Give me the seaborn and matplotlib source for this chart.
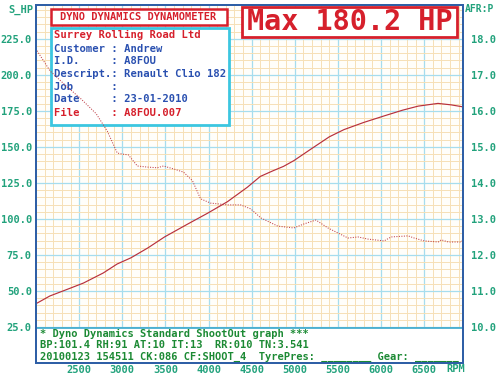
import matplotlib
matplotlib.use("Agg")
import matplotlib.pyplot as plt
import seaborn as sns
import pandas as pd
from matplotlib.patches import Rectangle
from matplotlib.ticker import MultipleLocator

# ---------------- data ----------------
power_rpm = [2010, 2160, 2400, 2550, 2780, 2940, 3100, 3300, 3490, 3760, 3990, 4220,
             4450, 4600, 4750, 4870, 4990, 5190, 5400, 5570, 5800, 6035, 6250, 6430,
             6660, 6810, 6950]
power_hp = [41.5, 46.5, 52, 55.5, 62.5, 68.7, 73, 80, 87.5, 96.5, 104, 112,
            122, 129.5, 133.5, 136.5, 140.5, 148.6, 157, 162, 167, 171.5, 175.5, 178.3,
            180.2, 179.2, 177.8]

afr_rpm = [2012, 2163, 2337, 2523, 2698, 2826, 2942, 3000, 3070, 3175, 3291, 3407,
           3477, 3593, 3710, 3814, 3907, 4023, 4221, 4372, 4489, 4605, 4803, 4989,
           5105, 5245, 5384, 5617, 5733, 5849, 6035, 6117, 6314, 6384, 6500, 6663,
           6698, 6780, 6931, 6966]
afr_val = [17.67, 17.11, 16.72, 16.33, 15.92, 15.44, 14.83, 14.8, 14.78, 14.47, 14.44, 14.42,
           14.47, 14.39, 14.3, 14.06, 13.56, 13.44, 13.39, 13.39, 13.28, 13.03, 12.8, 12.75,
           12.86, 12.97, 12.75, 12.47, 12.5, 12.44, 12.39, 12.5, 12.53, 12.47, 12.39, 12.36,
           12.42, 12.36, 12.36, 12.47]

x_ticks = [2500, 3000, 3500, 4000, 4500, 5000, 5500, 6000, 6500]
hp_ticks = [25, 50, 75, 100, 125, 150, 175, 200, 225]
afr_ticks = [10, 11, 12, 13, 14, 15, 16, 17, 18]

header_title = "DYNO DYNAMICS DYNAMOMETER"
info_lines = [
    ("Surrey Rolling Road Ltd", "red"),
    ("Customer : Andrew", "blue"),
    ("I.D.     : A8FOU", "blue"),
    ("Descript.: Renault Clio 182", "blue"),
    ("Job      :", "blue"),
    ("Date     : 23-01-2010", "blue"),
    ("File     : A8FOU.007", "red"),
]
max_text = "Max 180.2 HP"
footer_lines = [
    "* Dyno Dynamics Standard ShootOut graph ***",
    "BP:101.4 RH:91 AT:10 IT:13  RR:010 TN:3.541",
    "20100123 154511 CK:086 CF:SHOOT_4  TyrePres: ________ Gear: _______",
]

# ---------------- style ----------------
sns.set_theme(style="white")
plt.rcParams['font.family'] = ['DejaVu Sans Mono', 'DejaVu Sans']

TEAL = "#22a27c"
GREEN = "#1c8a34"
RED = "#d6202c"
BLUE = "#2a50b0"
CYAN = "#3cc6e0"
SPINE = "#2f5fa6"
GRID_MAJ = "#a6ddee"
GRID_MIN = "#f6e0b6"
LINE_RED = "#b8303c"

fig = plt.figure(figsize=(5, 3.77), dpi=100)
fig.patch.set_facecolor("white")

def fx(x):
    return x / 500.0

def fy(y):
    return 1 - y / 377.0

ax = fig.add_axes([fx(36), fy(363), (463 - 36) / 500.0, (363 - 5) / 377.0])
ax.set_facecolor("#fffefa")
ax.set_xlim(2000, 6950)
ax.set_ylim(0, 248.5)

ax.xaxis.set_major_locator(MultipleLocator(500))
ax.xaxis.set_minor_locator(MultipleLocator(100))
ax.yaxis.set_major_locator(MultipleLocator(25))
ax.yaxis.set_minor_locator(MultipleLocator(5))
ax.grid(which="minor", color=GRID_MIN, linewidth=0.7, zorder=0)
ax.grid(which="major", color=GRID_MAJ, linewidth=0.9, zorder=0)
ax.set_axisbelow(True)

ax.set_xticks(x_ticks)
ax.set_xticklabels([str(t) for t in x_ticks])
ax.set_yticks(hp_ticks)
ax.set_yticklabels([f"{t:.1f}" for t in hp_ticks])
ax.tick_params(which="both", length=0)
ax.tick_params(axis="x", pad=1.5, labelsize=7.5, labelcolor=TEAL)
ax.tick_params(axis="y", pad=3, labelsize=7.5, labelcolor=TEAL)
for lab in ax.get_xticklabels() + ax.get_yticklabels():
    lab.set_fontweight("bold")

for s in ax.spines.values():
    s.set_color(SPINE)
    s.set_linewidth(1.4)
    s.set_visible(True)

df_p = pd.DataFrame({"rpm": power_rpm, "hp": power_hp})
sns.lineplot(data=df_p, x="rpm", y="hp", ax=ax, color=LINE_RED, linewidth=0.85,
             zorder=4, legend=False)
ax.set_xlabel("")
ax.set_ylabel("")

# twin axis for AFR
ax2 = ax.twinx()
ax2.set_ylim(9, 9 + 248.5 / 25.0)
df_a = pd.DataFrame({"rpm": afr_rpm, "afr": afr_val})
sns.lineplot(data=df_a, x="rpm", y="afr", ax=ax2, color="#c0404a", linewidth=0.75,
             linestyle=(0, (1, 1.4)), legend=False)
ax2.set_xlim(2000, 6950)
ax2.set_yticks(afr_ticks)
ax2.set_yticklabels([f"{t:.1f}" for t in afr_ticks])
ax2.tick_params(length=0, pad=6, labelsize=7.5, labelcolor=TEAL)
for lab in ax2.get_yticklabels():
    lab.set_fontweight("bold")
ax2.grid(False)
ax2.set_ylabel("")
ax2.set_xlabel("")
for s in ax2.spines.values():
    s.set_color(SPINE)
    s.set_linewidth(1.4)

# ---------------- boxes and texts ----------------
def fig_rect(x0, y0, x1, y1, ec, lw, z):
    r = Rectangle((fx(x0), fy(y1)), (x1 - x0) / 500.0, (y1 - y0) / 377.0,
                  transform=fig.transFigure, facecolor="white", edgecolor=ec,
                  linewidth=lw, zorder=z, clip_on=False)
    ax.add_patch(r)

def fig_text(x, y, s, color, size=7.5, ha="left", va="center", weight="bold"):
    ax.text(fx(x), fy(y), s, transform=fig.transFigure, color=color, fontsize=size,
            ha=ha, va=va, fontweight=weight, zorder=3, clip_on=False)

# header box
fig_rect(50.5, 8.5, 227, 25, RED, 1.8, 2)
fig_text(138.5, 17, header_title, RED, ha="center")

# info box
fig_rect(50.5, 27.5, 229, 124.5, CYAN, 2.0, 2)
ys = [35, 49, 61, 74, 87, 99, 113]
for (txt, c), yy in zip(info_lines, ys):
    fig_text(54, yy, txt, RED if c == "red" else BLUE, size=7.6)

# max box
fig_rect(242, 7.5, 457, 37, RED, 2.0, 2)
fig_text(350, 22.5, max_text, RED, size=20.5, ha="center")

# footer box (in data coordinates of the power axis)
foot = Rectangle((2000, 0), 4950, 24, facecolor="white", edgecolor="#3aa8cc",
                 linewidth=1.2, zorder=2)
ax.add_patch(foot)
for txt, yy in zip(footer_lines, [334, 345.5, 356.5]):
    fig_text(40, yy, txt, GREEN, size=7.5)

# axis unit labels
fig.text(fx(33), fy(10), "S_HP", color=TEAL, fontsize=7.5, ha="right", va="center",
         fontweight="bold")
fig.text(fx(465), fy(9), "AFR:P", color=TEAL, fontsize=7.0, ha="left", va="center",
         fontweight="bold")
fig.text(fx(456), fy(368.5), "RPM", color=TEAL, fontsize=7.5, ha="center", va="center",
         fontweight="bold")

fig.savefig("out.png", dpi=100, facecolor="white")
